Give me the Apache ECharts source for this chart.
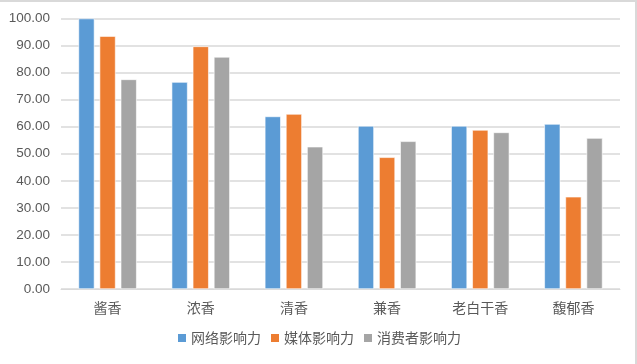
<!DOCTYPE html>
<html><head><meta charset="utf-8">
<script src="https://cdn.jsdelivr.net/npm/echarts@6/dist/echarts.min.js"></script>
<style>
html,body{margin:0;padding:0;background:#fff;}
#frame{position:absolute;left:0;top:0;width:635px;height:362px;border-top:2px solid #d9d9d9;border-right:2px solid #d9d9d9;}
#c{position:absolute;left:0;top:0;width:637px;height:364px;}
</style></head>
<body>
<div id="frame"></div>
<div id="c"></div>
<script>
const categories = ['酱香','浓香','清香','兼香','老白干香','馥郁香'];
const seriesNames = ['网络影响力','媒体影响力','消费者影响力'];
const networkValues = [100.0, 76.5, 63.8, 60.3, 60.3, 61.0];
const mediaValues = [93.5, 89.7, 64.7, 48.7, 58.8, 34.1];
const consumerValues = [77.5, 85.8, 52.6, 54.6, 57.9, 55.8];
const colors = ['#5B9BD5','#ED7D31','#A5A5A5'];

const chart = echarts.init(document.getElementById('c'));
const mk = (name, data, color) => ({
  name, type:'bar', data, barWidth:16, barGap:'32%',
  itemStyle:{color, borderColor:'#fff', borderWidth:0.6}
});
chart.setOption({
  animation:false,
  color: colors,
  grid:{left:61, right:17, top:18.5, bottom:75, containLabel:false},
  legend:{
    bottom:14, left:'center', itemWidth:10, itemHeight:10, itemGap:8,
    icon:'rect',
    textStyle:{fontFamily:'Noto Sans CJK SC', fontSize:14, color:'#595959', padding:[0,0,0,-1]},
    data: seriesNames
  },
  xAxis:{
    type:'category', data:categories,
    axisLine:{lineStyle:{color:'#d9d9d9', width:1}},
    axisTick:{show:false},
    axisLabel:{fontFamily:'Noto Sans CJK SC', fontSize:14, color:'#595959', margin:12}
  },
  yAxis:{
    type:'value', min:0, max:100, interval:10,
    axisLine:{show:false}, axisTick:{show:false},
    splitLine:{lineStyle:{color:'#d9d9d9', width:1.5}},
    axisLabel:{fontFamily:'Liberation Sans', fontSize:13.5, color:'#595959', margin:11,
      formatter:v=>v.toFixed(2)}
  },
  series:[
    mk(seriesNames[0], networkValues, colors[0]),
    mk(seriesNames[1], mediaValues, colors[1]),
    mk(seriesNames[2], consumerValues, colors[2])
  ]
});
</script>
</body></html>
